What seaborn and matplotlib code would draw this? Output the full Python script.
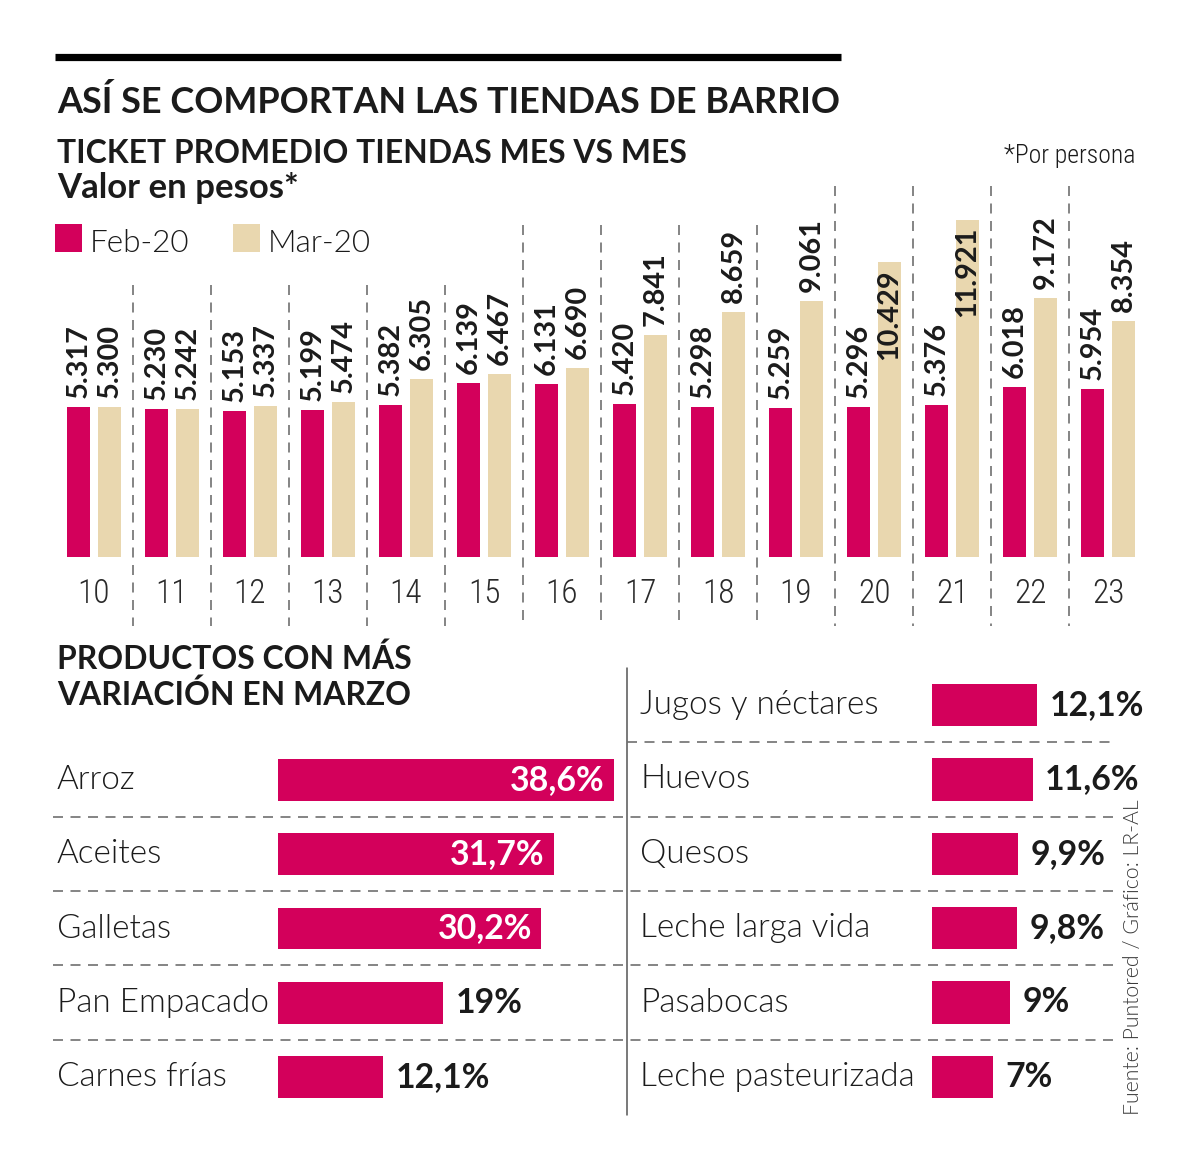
import numpy as np
import pandas as pd
import seaborn as sns
import matplotlib
matplotlib.use("Agg")
import matplotlib.pyplot as plt
from matplotlib import font_manager, transforms
from matplotlib.patches import Rectangle

# ---------------- data ----------------
days = ["10", "11", "12", "13", "14", "15", "16", "17", "18", "19", "20", "21", "22", "23"]
series_names = ["Feb-20", "Mar-20"]
feb_20 = [5317, 5230, 5153, 5199, 5382, 6139, 6131, 5420, 5298, 5259, 5296, 5376, 6018, 5954]
mar_20 = [5300, 5242, 5337, 5474, 6305, 6467, 6690, 7841, 8659, 9061, 10429, 11921, 9172, 8354]

left_products = ["Arroz", "Aceites", "Galletas", "Pan Empacado", "Carnes frías"]
left_values = [38.6, 31.7, 30.2, 19, 12.1]
right_products = ["Jugos y néctares", "Huevos", "Quesos", "Leche larga vida", "Pasabocas",
                  "Leche pasteurizada"]
right_values = [12.1, 11.6, 9.9, 9.8, 9, 7]

title = "ASÍ SE COMPORTAN LAS TIENDAS DE BARRIO"
subtitle = "TICKET PROMEDIO TIENDAS MES VS MES"
unit_note = "Valor en pesos*"
per_person = "*Por persona"
products_title = ["PRODUCTOS CON MÁS", "VARIACIÓN EN MARZO"]
source = "Fuente: Puntored / Gráfico: LR-AL"

PINK = "#D3005B"
BEIGE = "#E9D7AF"
INK = "#1b1b1b"
GREY = "#6f6f6f"

# ---------------- fonts ----------------
sns.set_theme(style="white")
names = {f.name for f in font_manager.fontManager.ttflist}


def pick(cands, default="DejaVu Sans"):
    for c in cands:
        if c in names:
            return c
    return default


MAIN = pick(["Lato", "Open Sans", "Noto Sans", "Roboto"])
COND = pick(["Roboto Condensed", "Liberation Sans Narrow", "Open Sans Condensed", "Roboto"])
plt.rcParams["font.family"] = [MAIN, "DejaVu Sans"]
LIGHT = 300

W, H = 1200, 1168
fig = plt.figure(figsize=(W / 100, H / 100), dpi=100, facecolor="white")

overlay = fig.add_axes([0, 0, 1, 1])
overlay.set_xlim(0, W)
overlay.set_ylim(H, 0)
overlay.axis("off")
overlay.patch.set_visible(False)


def px_axes(x0, y0, x1, y1):
    ax = fig.add_axes([x0 / W, 1 - y1 / H, (x1 - x0) / W, (y1 - y0) / H])
    ax.patch.set_visible(False)
    return ax


renderer = fig.canvas.get_renderer()


def fit(t, width):
    w = t.get_window_extent(renderer).width
    t.set_fontsize(t.get_fontsize() * width / w)
    return t


def size_for(text, width, **kw):
    t = fig.text(0, 0, text, fontsize=20, **kw)
    w = t.get_window_extent(renderer).width
    t.remove()
    return 20 * width / w


# ---------------- header ----------------
overlay.plot([55, 841], [57, 57], color="black", lw=5.2, solid_capstyle="butt")
fit(overlay.text(57, 113, title, fontweight="bold", color=INK, va="baseline", ha="left"), 781)
fit(overlay.text(57, 163, subtitle, fontweight="bold", color=INK, va="baseline", ha="left"), 629)
fit(overlay.text(57, 198, unit_note, fontweight="bold", color=INK, va="baseline", ha="left"), 241)
fit(overlay.text(1135, 163, per_person, family=[COND, "DejaVu Sans"], fontweight=LIGHT,
                 color=INK, va="baseline", ha="right"), 132)

# legend
leg_fs = size_for("Feb-20", 100, fontweight=LIGHT)
for x0, name, col in zip([55, 233], series_names, [PINK, BEIGE]):
    overlay.add_patch(Rectangle((x0, 224), 27, 28, color=col, lw=0))
    overlay.text(x0 + 35, 252, name, fontsize=leg_fs, fontweight=LIGHT, color=INK,
                 va="baseline", ha="left")

# ---------------- top bar chart ----------------
df = pd.DataFrame({
    "day": days * 2,
    "period": [series_names[0]] * len(days) + [series_names[1]] * len(days),
    "value": feb_20 + mar_20,
})

ax1 = px_axes(55, 150, 1147, 557)
sns.barplot(data=df, x="day", y="value", hue="period", hue_order=series_names,
            palette=[PINK, BEIGE], width=0.8, gap=0.26, saturation=1, errorbar=None,
            linewidth=0, legend=False, ax=ax1)
ax1.set_xlim(-0.5, len(days) - 0.5)
ax1.set_ylim(0, 14400)
sns.despine(ax=ax1, left=True, bottom=True)
ax1.set_yticks([])
ax1.set_xlabel("")
ax1.set_ylabel("")
ax1.tick_params(axis="x", length=0, pad=33, labelsize=24, labelcolor="#2a2a2a")
for t in ax1.get_xticklabels():
    t.set_verticalalignment("baseline")
    t.set_family([COND, "DejaVu Sans"])
    t.set_fontweight(LIGHT)

num_fs = size_for("5.317", 74, fontweight="bold")
for cont, vals in zip(ax1.containers, [feb_20, mar_20]):
    for p, v in zip(cont.patches, vals):
        xc = p.get_x() + p.get_width() / 2
        top = p.get_height()
        lab = f"{v:,}".replace(",", ".")
        if v > 10000:
            ax1.annotate(lab, (xc, top), xytext=(0, -7), textcoords="offset pixels",
                         rotation=90, ha="center", va="top", fontsize=num_fs,
                         fontweight="bold", color=INK, annotation_clip=False)
        else:
            ax1.annotate(lab, (xc, top), xytext=(0, 9), textcoords="offset pixels",
                         rotation=90, ha="center", va="bottom", fontsize=num_fs,
                         fontweight="bold", color=INK, annotation_clip=False)

# separators between days
sep_tops = [285, 285, 285, 285, 285, 225, 225, 225, 225, 186, 186, 186, 186]
trans_sep = transforms.blended_transform_factory(ax1.transData, overlay.transData)
for i, ytop in enumerate(sep_tops):
    overlay.plot([i + 0.5, i + 0.5], [ytop, 626], transform=trans_sep, color=GREY,
                 lw=1.2, linestyle=(0, (6, 4.5)))

# ---------------- bottom section ----------------
pt1 = overlay.text(57, 669, products_title[0], fontweight="bold", color=INK,
                   va="baseline", ha="left")
fit(pt1, 353)
overlay.text(57, 705, products_title[1], fontweight="bold", color=INK, va="baseline",
             ha="left", fontsize=pt1.get_fontsize())

axL = px_axes(278, 743, 626, 1114)
axR = px_axes(932, 668, 1150, 1114)
SCALE = 8.7  # px per percentage point

sns.barplot(x=left_values, y=left_products, orient="h", color=PINK, width=0.566,
            saturation=1, errorbar=None, linewidth=0, ax=axL)
sns.barplot(x=right_values, y=right_products, orient="h", color=PINK, width=0.566,
            saturation=1, errorbar=None, linewidth=0, ax=axR)
axL.set_xlim(0, 348 / SCALE)
axR.set_xlim(0, 218 / SCALE)
axL.set_ylim(len(left_products) - 0.5, -0.5)
axR.set_ylim(len(right_products) - 0.5, -0.5)
for a in (axL, axR):
    a.axis("off")

lab_fs = size_for("Leche pasteurizada", 275, fontweight=LIGHT)
val_fs = size_for("12,1%", 95, fontweight="bold")


def pct(v):
    return (f"{int(v)}%" if float(v).is_integer() else f"{v:.1f}".replace(".", ",") + "%")


for a, prods, vals, xlab in ((axL, left_products, left_values, 57),
                             (axR, right_products, right_values, 640)):
    tr = transforms.blended_transform_factory(overlay.transData, a.transData)
    for i, name in enumerate(prods):
        overlay.text(xlab, i, name, transform=tr, fontsize=lab_fs, fontweight=LIGHT,
                     color=INK, va="center", ha="left")
    for p, v in zip(a.containers[0].patches, vals):
        yc = p.get_y() + p.get_height() / 2
        w = p.get_width()
        if v > 25:
            a.annotate(pct(v), (w, yc), xytext=(-9, 0), textcoords="offset pixels",
                       ha="right", va="center", fontsize=val_fs, fontweight="bold",
                       color="white", annotation_clip=False)
        else:
            a.annotate(pct(v), (w, yc), xytext=(12, 0), textcoords="offset pixels",
                       ha="left", va="center", fontsize=val_fs, fontweight="bold",
                       color=INK, annotation_clip=False)

# divider & dashed row lines
overlay.plot([627, 627], [668, 1115], color="#555555", lw=1.1)
trR = transforms.blended_transform_factory(overlay.transData, axR.transData)
for k in range(len(right_products) - 1):
    x0 = 627 if k == 0 else 53
    overlay.plot([x0, 1117], [k + 0.5, k + 0.5], transform=trR, color=GREY, lw=1.2,
                 linestyle=(0, (6, 4.5)))

src = overlay.text(1133, 1115, source, rotation=90, ha="center", va="bottom",
                   color="#3a3a3a", fontweight=LIGHT)
fit_w = src.get_window_extent(renderer).height
src.set_fontsize(src.get_fontsize() * 315 / fit_w)

fig.savefig("out.png", dpi=100, facecolor="white")
